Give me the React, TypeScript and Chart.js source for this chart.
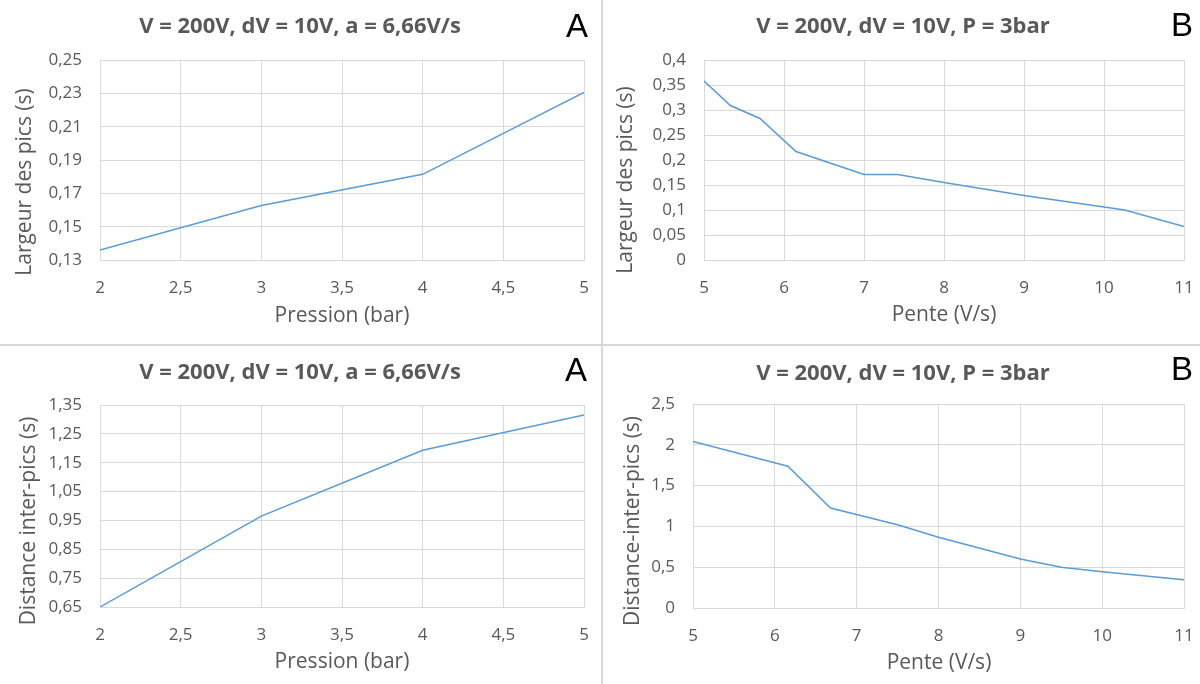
import React, { useEffect, useRef } from "react";
import { Chart, registerables } from "chart.js";

Chart.register(...registerables);

// ---------- DATA ----------
const pressionA = [2, 3, 4, 5];
const largeurA = [0.136, 0.1627, 0.1814, 0.2305];
const distanceA = [0.65, 0.965, 1.193, 1.315];

const penteLargeurB = [5, 5.33, 5.7, 6.15, 7, 7.42, 8, 9, 10.26, 11];
const largeurB = [0.358, 0.309, 0.283, 0.217, 0.171, 0.171, 0.155, 0.129, 0.1, 0.067];

const penteDistanceB = [5, 6.16, 6.68, 7.5, 8, 9, 9.5, 10, 11];
const distanceB = [2.04, 1.738, 1.226, 1.02, 0.866, 0.6, 0.5, 0.445, 0.345];

const titleA = "V = 200V, dV = 10V, a = 6,66V/s";
const titleB = "V = 200V, dV = 10V, P = 3bar";
const xTitleA = "Pression (bar)";
const xTitleB = "Pente (V/s)";
const yTitleLargeur = "Largeur des pics (s)";
const yTitleDistanceA = "Distance inter-pics (s)";
const yTitleDistanceB = "Distance-inter-pics (s)";

// ---------- HELPERS ----------
const GRAY = "#595959";
const GRID = "#d9d9d9";
const LINE = "#5b9bd5";
const FONT = "'Open Sans', 'Noto Sans', sans-serif";

const fmtTrim = (v: number) => String(Number(Number(v).toFixed(2))).replace(".", ",");
const fmt2 = (v: number) => Number(v).toFixed(2).replace(".", ",");

type PanelProps = {
  left: number;
  top: number;
  xs: number[];
  ys: number[];
  title: string;
  letter: string;
  xTitle: string;
  yTitle: string;
  xRange: [number, number, number];
  yRange: [number, number, number];
  yFmt: (v: number) => string;
  area: { left: number; right: number; top: number; bottom: number };
  titlePos: [number, number];
  letterPos: [number, number];
  yTitlePos: [number, number];
  xTitlePos: [number, number];
};

const W = 600;
const H = 342;

function Panel(p: PanelProps) {
  const ref = useRef<HTMLCanvasElement | null>(null);
  useEffect(() => {
    if (!ref.current) return;
    const textPlugin = {
      id: "panelText",
      afterDraw(chart: any) {
        const ctx = chart.ctx;
        ctx.save();
        ctx.textAlign = "center";
        ctx.textBaseline = "alphabetic";
        ctx.fillStyle = GRAY;
        ctx.font = `bold 22px ${FONT}`;
        ctx.fillText(p.title, p.titlePos[0], p.titlePos[1]);
        ctx.fillStyle = "#000000";
        ctx.font = `33px 'Liberation Sans', Arial, sans-serif`;
        ctx.fillText(p.letter, p.letterPos[0], p.letterPos[1]);
        // axis titles
        ctx.fillStyle = GRAY;
        ctx.font = `21px ${FONT}`;
        ctx.textBaseline = "middle";
        ctx.fillText(p.xTitle, p.xTitlePos[0], p.xTitlePos[1]);
        ctx.translate(p.yTitlePos[0], p.yTitlePos[1]);
        ctx.rotate(-Math.PI / 2);
        ctx.fillText(p.yTitle, 0, 0);
        ctx.restore();
      },
    };
    const chart = new Chart(ref.current, {
      type: "line",
      data: {
        datasets: [
          {
            data: p.xs.map((x, i) => ({ x, y: p.ys[i] })),
            borderColor: LINE,
            borderWidth: 1.5,
            pointRadius: 0,
            tension: 0,
            fill: false,
          },
        ],
      },
      options: {
        animation: false,
        responsive: false,
        devicePixelRatio: 1,
        layout: {
          autoPadding: false,
          padding: { left: 0, top: p.area.top, right: W - p.area.right, bottom: 0 },
        },
        plugins: { legend: { display: false }, tooltip: { enabled: false }, title: { display: false } },
        scales: {
          x: {
            type: "linear",
            min: p.xRange[0],
            max: p.xRange[1],
            afterFit: (s: any) => {
              s.height = H - p.area.bottom;
              s.paddingLeft = 0;
              s.paddingRight = 0;
            },
            ticks: {
              stepSize: p.xRange[2],
              color: GRAY,
              font: { family: FONT, size: 17 },
              padding: 18,
              maxRotation: 0,
              autoSkip: false,
              callback: (v: any) => fmtTrim(Number(v)),
            },
            grid: { color: GRID, lineWidth: 1, drawTicks: false },
            border: { color: GRID, width: 1 },
            title: { display: false },
          },
          y: {
            type: "linear",
            min: p.yRange[0],
            max: p.yRange[1],
            afterFit: (s: any) => {
              s.width = p.area.left;
              s.paddingTop = 0;
              s.paddingBottom = 0;
            },
            ticks: {
              stepSize: p.yRange[2],
              color: GRAY,
              font: { family: FONT, size: 17 },
              padding: 18,
              autoSkip: false,
              callback: (v: any) => p.yFmt(Number(v)),
            },
            grid: { color: GRID, lineWidth: 1, drawTicks: false },
            border: { color: GRID, width: 1 },
            title: { display: false },
          },
        },
      },
      plugins: [textPlugin],
    } as any);
    return () => chart.destroy();
  }, []);
  return (
    <div style={{ position: "absolute", left: p.left, top: p.top, width: W, height: H }}>
      <canvas ref={ref} width={W} height={H} style={{ width: W, height: H, display: "block" }} />
    </div>
  );
}

export default function App() {
  return (
    <div
      style={{
        position: "fixed",
        left: 0,
        top: 0,
        width: 1200,
        height: 684,
        background: "#ffffff",
        overflow: "hidden",
      }}
    >
      <Panel
        left={0}
        top={0}
        xs={pressionA}
        ys={largeurA}
        title={titleA}
        letter="A"
        xTitle={xTitleA}
        yTitle={yTitleLargeur}
        xRange={[2, 5, 0.5]}
        yRange={[0.13, 0.25, 0.02]}
        yFmt={fmt2}
        area={{ left: 100, right: 584, top: 60, bottom: 260 }}
        titlePos={[300, 33]}
        letterPos={[577, 37]}
        yTitlePos={[25.5, 182]}
        xTitlePos={[342, 316]}
      />
      <Panel
        left={600}
        top={0}
        xs={penteLargeurB}
        ys={largeurB}
        title={titleB}
        letter="B"
        xTitle={xTitleB}
        yTitle={yTitleLargeur}
        xRange={[5, 11, 1]}
        yRange={[0, 0.4, 0.05]}
        yFmt={fmtTrim}
        area={{ left: 104, right: 584, top: 60, bottom: 260 }}
        titlePos={[303, 33]}
        letterPos={[582, 36]}
        yTitlePos={[26.5, 180]}
        xTitlePos={[344, 315]}
      />
      <Panel
        left={0}
        top={342}
        xs={pressionA}
        ys={distanceA}
        title={titleA}
        letter="A"
        xTitle={xTitleA}
        yTitle={yTitleDistanceA}
        xRange={[2, 5, 0.5]}
        yRange={[0.65, 1.35, 0.1]}
        yFmt={fmt2}
        area={{ left: 100, right: 584, top: 63, bottom: 265 }}
        titlePos={[300, 37]}
        letterPos={[576, 39]}
        yTitlePos={[29.5, 179]}
        xTitlePos={[342, 320]}
      />
      <Panel
        left={600}
        top={342}
        xs={penteDistanceB}
        ys={distanceB}
        title={titleB}
        letter="B"
        xTitle={xTitleB}
        yTitle={yTitleDistanceB}
        xRange={[5, 11, 1]}
        yRange={[0, 2.5, 0.5]}
        yFmt={fmtTrim}
        area={{ left: 93, right: 584, top: 62, bottom: 266 }}
        titlePos={[303, 38]}
        letterPos={[582, 38]}
        yTitlePos={[33.5, 179]}
        xTitlePos={[339, 321]}
      />
      <div style={{ position: "absolute", left: 601, top: 0, width: 2, height: 684, background: GRID }} />
      <div style={{ position: "absolute", left: 0, top: 344, width: 1200, height: 2, background: GRID }} />
    </div>
  );
}
